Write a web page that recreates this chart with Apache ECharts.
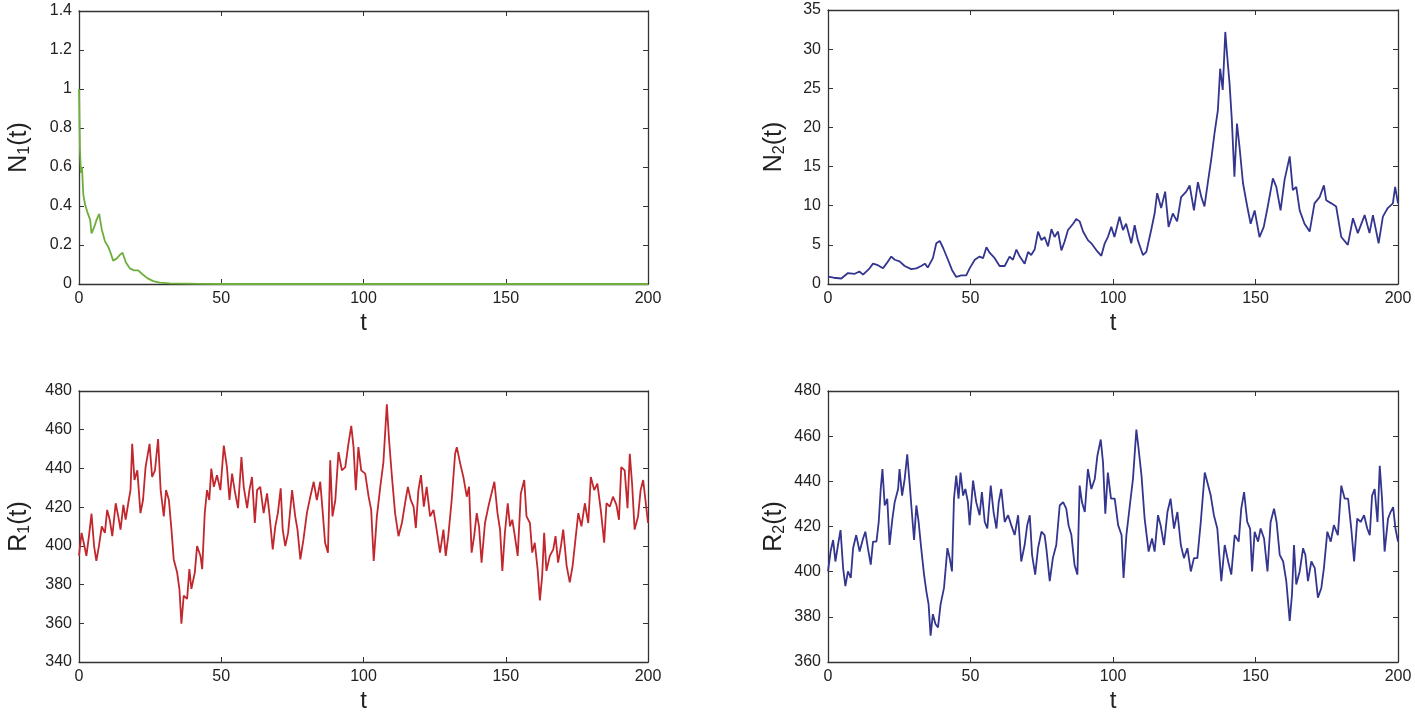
<!DOCTYPE html>
<html>
<head>
<meta charset="utf-8">
<script src="https://cdn.jsdelivr.net/npm/echarts@6/dist/echarts.min.js"></script>
<style>
  html, body { margin: 0; padding: 0; background: #fff; }
  #chart { width: 1415px; height: 714px; }
</style>
</head>
<body>
<div id="chart"></div>
<script>
// N1(t) - green, top left
var tN1 = [0, 0.35, 0.7, 1.05, 1.5, 2.1, 2.9, 3.9, 4.4, 5.3, 6.2, 7.1, 8, 9.1, 10.3, 11.1, 12, 13.2, 14.4, 15.3, 16.5, 17.9, 19.3, 20.8, 22.3, 24, 26.1, 28.4, 31.9, 37.8, 42.5, 50, 100, 150, 200];
var N1 = [1.0, 0.68, 0.57, 0.60, 0.46, 0.41, 0.37, 0.33, 0.26, 0.29, 0.33, 0.36, 0.28, 0.22, 0.19, 0.16, 0.12, 0.13, 0.15, 0.16, 0.11, 0.08, 0.07, 0.07, 0.05, 0.03, 0.015, 0.007, 0.003, 0.002, 0.001, 0, 0, 0, 0];

// N2(t) - blue, top right
var tN2 = [0, 2, 4.7, 7, 9.4, 11, 12.3, 14.6, 15.8, 17.5, 19.3, 20.5, 22.2, 23.4, 25.1, 26.9, 29.2, 31, 32.7, 34, 35, 36.8, 38, 39.2, 40.4, 42.1, 43.5, 45, 46.8, 48.5, 49.7,
  51.5, 53.2, 54.4, 55.6, 56.7, 58.5, 60.2, 62, 63.7, 64.9, 66.1, 67.3, 69, 70.2, 71.3, 72.5, 73.7, 74.9, 76, 77.2, 78.4, 79.5, 80.7, 81.9, 83, 84.2, 86, 87.1, 88.3, 89.5,
  91.2, 92.4, 94.2, 95.9, 97.1, 98.2, 99.4, 100.5, 102.3, 103.5, 104.6, 106.4, 107.6, 108.7, 110.5, 111.7, 113.4, 114.6, 115.5, 116.9, 118.3, 119.5, 121, 122.5, 123.9,
  125.7, 126.9, 128.4, 129.8, 131, 132.1, 133.3, 134.5, 135.6, 136.8, 137.6, 138.5, 139.4, 140.1, 140.9, 141.7, 142.6, 143.5, 144.4, 145.6, 147.1, 148.3, 149.7,
  151.4, 152.9, 154.3, 156.1, 157.3, 158.8, 160.2, 162, 163.1, 164.3, 165.5, 167.2, 169, 170.7, 172.5, 174, 174.8, 176.6, 178.3, 180.1, 182.4, 184.2, 185.9, 188.3,
  190, 191.2, 193.2, 194.7, 196.4, 198.2, 199, 200];
var N2 = [0.95, 0.8, 0.7, 1.4, 1.3, 1.6, 1.2, 2.0, 2.6, 2.4, 2.0, 2.6, 3.5, 3.1, 2.9, 2.3, 1.9, 2.0, 2.3, 2.6, 2.1, 3.3, 5.2, 5.5, 4.6, 3.1, 1.8, 0.9, 1.1, 1.1, 2.0,
  3.1, 3.5, 3.3, 4.7, 4.0, 3.3, 2.3, 2.3, 3.5, 3.1, 4.4, 3.5, 2.6, 4.1, 3.7, 4.4, 6.7, 5.6, 6.0, 4.8, 7.0, 6.0, 6.7, 4.3, 5.4, 6.9, 7.7, 8.3, 8.0, 6.7,
  5.6, 5.2, 4.3, 3.6, 5.2, 6.0, 7.3, 6.0, 8.6, 6.9, 7.7, 5.2, 7.5, 5.6, 3.7, 4.1, 6.9, 9.0, 11.6, 9.7, 11.8, 7.3, 9.0, 8.0, 11.1,
  11.8, 12.6, 9.4, 13.0, 11.1, 9.9, 13.0, 16.0, 19.2, 22.2, 27.5, 24.8, 32.2, 29.0, 25.6, 20.9, 13.7, 20.5, 17.5, 12.9, 9.9, 7.7, 9.4,
  6.0, 7.3, 9.9, 13.5, 12.4, 9.4, 13.3, 16.3, 12.0, 12.4, 9.4, 7.7, 6.7, 10.3, 11.1, 12.6, 10.7, 10.3, 9.9, 6.0, 5.0, 8.4, 6.5, 8.8,
  6.5, 8.8, 5.2, 8.6, 9.7, 10.3, 12.4, 10.3];

// R1(t) - red, bottom left
var tR1 = [0, 0.9, 1.8, 2.6, 3.5, 4.4, 5.3, 6.1, 7, 8, 9.1, 9.9, 10.8, 11.7, 12.9, 13.8, 14.6, 15.6, 16.4, 17.3, 18.1, 18.7, 19.5, 20.5, 21.6, 22.5, 23.4, 24.8, 25.7,
  26.7, 27.8, 28.7, 29.8, 30.6, 31.6, 32.5, 33.3, 34.5, 35.3, 36, 36.8, 38, 38.8, 39.5, 40.7, 41.5, 42.7, 43.3, 44.2, 45, 45.8, 46.5, 47.4, 48.5, 49.7,
  50.9, 52, 52.9, 53.8, 54.7, 55.9, 57.1, 57.9, 59.1, 59.9, 60.8, 61.8, 62.6, 63.7, 64.9, 66.1, 66.9, 68.1, 69, 69.9, 70.9, 71.6, 72.5, 73.5, 74.9,
  76, 76.8, 77.8, 78.9, 80.1, 81.3, 82.5, 83.6, 84.8, 85.6, 86.5, 87.5, 88.3, 89.1, 90.1, 91.2, 92.4, 93.6, 94.7, 95.7, 96.5, 97.3, 98.2, 99.2,
  100.6, 101.8, 102.7, 103.6, 104.7, 105.9, 107, 108.2, 109, 110, 111.1, 112.3, 113.5, 114.6, 115.6, 116.6, 117.6, 118.4, 119.3, 120.2, 121.2, 122.2,
  123.4, 124.6, 125.7, 126.9, 128.1, 128.9, 129.8, 131, 132.2, 132.8, 134, 135.1, 136.3, 137.1, 138, 138.9, 139.8, 140.6, 141.5, 142.7, 143.9, 145,
  146, 147.1, 148, 148.8, 149.7, 150.7, 151.5, 152.3, 153.2, 154.2, 155.3, 156.5, 157.3, 158.5, 159.3, 160.2, 161.2, 162, 162.8, 163.5, 164.3, 165.5,
  166.7, 167.5, 168.4, 169.4, 170.2, 171.4, 172.5, 173.5, 174.5, 175.5, 176.6, 177.8, 179, 179.9, 181.1, 182.2, 183.4, 184.6, 185.4, 186.6, 187.7,
  188.9, 189.8, 190.6, 191.8, 192.8, 193.6, 194.4, 195.3, 196.5, 197.4, 198.3, 199.1, 200];
var R1 = [395, 406.7, 400.7, 394.8, 405, 416.6, 399.9, 392.2, 399.9, 410, 406.7, 418.6, 413.5, 405, 422, 415.2, 408.4, 421.2, 413.5, 422, 428.8, 452.7, 434, 439, 416.9, 423.7, 440.7, 452.7, 435.6,
  439, 455.2, 428.8, 415.2, 428.8, 423.7, 408.4, 393, 386.2, 377.7, 359.8, 374.3, 372.6, 388, 377.7, 386.2, 399.9, 394.8, 388, 416.9, 428.8, 423.7, 439.9, 430.5, 436.5, 428.8,
  451.8, 440.7, 423.7, 437.3, 428.8, 419.5, 445.9, 430.5, 419.5, 428.8, 435.6, 411.8, 428.8, 430.5, 416.9, 427.1, 416.9, 398.2, 410.1, 416.9, 429.7, 408.4, 399.9, 406.7, 428.8,
  415.2, 408.4, 393, 403.3, 416.9, 425.4, 433.1, 423.7, 433.1, 418.6, 401.6, 396.5, 444.2, 415.2, 423.7, 448.4, 439, 440.7, 452.7, 462, 451, 428.8, 451, 439,
  437.3, 425.4, 418.6, 392.2, 415.2, 430.5, 443.3, 473.1, 454.4, 435.6, 416.9, 405, 411.8, 422, 430.5, 423.7, 420.3, 409.2, 428.8, 436.5, 420.3, 430.5,
  415.2, 418.6, 408.4, 396.5, 408.4, 394.8, 405, 423.7, 447.6, 451, 442.5, 435.6, 425.4, 430.5, 396.5, 405, 416.9, 410.1, 391.3, 411.8, 420.3, 427.1,
  433.1, 416.9, 408.4, 387.1, 406.7, 422, 410.1, 413.5, 405, 394.8, 427.1, 434, 415.2, 411.8, 396.5, 401.6, 388, 371.8, 384.5, 406.7, 387.1, 394.8,
  398.2, 405, 391.3, 399.9, 408.4, 389.7, 381.1, 389.7, 403.3, 416.9, 410.1, 422, 411.8, 435.6, 428.8, 432.2, 418.6, 401.6, 422, 420.3, 425.4,
  421.2, 413.5, 440.7, 439, 419.5, 447.6, 432.2, 408.4, 415.2, 428.8, 434, 423.7, 411.8];

// R2(t) - blue, bottom right
var tR2 = [0, 0.9, 1.8, 2.6, 3.5, 4.4, 5.3, 6.1, 7, 8, 8.8, 9.9, 11.1, 12.3, 13.1, 14, 15, 15.8, 17, 17.8, 18.5, 19.1, 19.9, 20.8, 21.6, 22.6, 23.4, 24.6, 25.1,
  26, 26.9, 27.8, 28.7, 29.5, 30.2, 31, 31.8, 32.7, 33.7, 34.5, 35.3, 36, 36.8, 37.7, 38.6, 39.5, 40.7, 41.9, 42.7, 43.5, 44.2, 45, 45.8, 46.5, 47.4, 48.2, 49.1, 49.7,
  50.9, 52, 53.2, 54, 55, 55.9, 57.1, 58.1, 59.1, 59.9, 60.8, 62, 63.2, 64.3, 65.5, 66.7, 67.8, 69, 69.9, 70.8, 71.6, 72.7, 73.7, 74.9,
  76, 76.6, 77.8, 78.9, 80.1, 81.3, 82.5, 83.6, 84.4, 85.4, 86.5, 87.5, 88.3, 89.1, 90.1, 91.2, 92.4, 93.6, 94.5, 95.7, 96.5, 97.3, 98.2, 99.3,
  100.6, 101.8, 103, 103.7, 104.7, 105.9, 107, 108.2, 109, 110, 111.1, 112.5, 113.7, 114.6, 115.8, 116.7, 117.9, 119.1, 120.2, 121.4, 122.6,
  123.8, 124.9, 126.1, 127.3, 128.4, 129.6, 130.8, 132.2, 133.1, 134.3, 135.4, 136.6, 138, 139.2, 140.4, 141.5, 142.7, 144.1, 145,
  146, 147.1, 148.1, 148.8, 149.7, 150.9, 151.8, 153, 154.2, 155.3, 156.5, 157.4, 158.5, 159.7, 160.8, 162, 162.8, 163.5, 164.3, 165.5,
  166.7, 167.5, 168.4, 169.6, 170.8, 171.9, 173.1, 174, 175.2, 176.4, 177.5, 178.9, 180.1, 181.3, 182.5, 183.6, 184.6, 185.7, 186.9, 188.1,
  189.2, 190.1, 190.9, 191.8, 192.8, 193.6, 194.4, 195.3, 196.5, 197.4, 198.3, 199.1, 200];
var R2 = [400.1, 408.9, 414, 404.5, 411.8, 418.4, 401.6, 393.6, 400.1, 397.2, 410.4, 416.2, 408.9, 414.7, 417.7, 410.4, 403.1, 413.3, 413.3, 422, 436.6, 445.4, 429.3, 432.3, 411.8, 423.5, 430.8, 436.6, 445.4,
  433.7, 441, 452, 438.1, 425, 414, 429.3, 422, 410.4, 398.7, 391.4, 385.5, 371.7, 381.2, 376.8, 375.3, 385.5, 392.8, 410.4, 406, 400.1, 432.3, 442.5, 432.3, 443.9, 433.7, 436.6, 430.8, 420.6,
  440.3, 430.8, 425, 435.2, 422, 419.1, 438.1, 426.4, 419.1, 430.8, 436.6, 422, 425, 420.6, 416.2, 425, 404.5, 411.8, 420.6, 425, 407.4, 398.7, 410.4, 417.7,
  416.2, 410.4, 395.8, 406, 411.8, 429.3, 430.8, 427.9, 420.6, 416.2, 403.1, 398.7, 438.1, 430.8, 426.4, 445.4, 436.6, 441, 451.2, 458.5, 448.3, 425.7, 443.9, 432.3,
  432.3, 420.6, 416.2, 397.2, 416.2, 429.3, 441, 462.9, 454.2, 442.5, 423.5, 408.9, 414.7, 408.9, 425, 420.6, 411.8, 426.4, 432.3, 419.1, 426.4,
  411.8, 406, 410.4, 400.1, 406, 406, 422, 443.9, 439.6, 433.7, 425, 419.1, 395.8, 411.8, 404.5, 398.7, 416.2, 413.3, 427.9,
  435.2, 422, 419.1, 400.1, 417.7, 413.3, 419.1, 414.7, 400.1, 422, 427.9, 422, 407.4, 404.5, 395.8, 378.2, 389.9, 411.8, 394.3, 400.1,
  410.4, 407.4, 395.8, 404.5, 401.6, 388.5, 392.8, 401.6, 417.7, 413.3, 420.6, 416.2, 438.1, 432.3, 432.3, 419.1, 404.5, 423.5, 422, 425,
  419.1, 416.2, 433.7, 436.6, 422, 446.9, 432.3, 408.9, 423.5, 426.4, 428.6, 419.1, 413.3];

var xTicks = { min: 0, max: 200, interval: 50 };
var yRanges = [
  { min: 0, max: 1.4, interval: 0.2 },
  { min: 0, max: 35, interval: 5 },
  { min: 340, max: 480, interval: 20 },
  { min: 360, max: 480, interval: 20 }
];
var yNames = ['{a|N}{s|1}{a|(t)}', '{a|N}{s|2}{a|(t)}', '{a|R}{s|1}{a|(t)}', '{a|R}{s|2}{a|(t)}'];
var colors = ['#6fae3c', '#33358f', '#c1272d', '#33358f'];
var seriesData = [[tN1, N1], [tN2, N2], [tR1, R1], [tR2, R2]];

var grids = [
  { left: 79, top: 11, width: 569, height: 273 },
  { left: 828, top: 10, width: 570, height: 274 },
  { left: 79, top: 391, width: 569, height: 274 },
  { left: 828, top: 391, width: 570, height: 273 }
];

var font = 'Liberation Sans, Arial, sans-serif';
var lineCol = '#333';

var xAxes = [], yAxes = [], series = [];
for (var i = 0; i < 4; i++) {
  // bottom x axis with labels
  xAxes.push({
    type: 'value', gridIndex: i, position: 'bottom',
    min: xTicks.min, max: xTicks.max, interval: xTicks.interval,
    name: 't', nameLocation: 'middle', nameGap: 27,
    nameTextStyle: { fontSize: 24, color: '#222', fontFamily: font },
    axisLine: { show: true, onZero: false, lineStyle: { color: lineCol, width: 1.3 } },
    axisTick: { show: true, inside: true, length: 5, lineStyle: { color: lineCol } },
    axisLabel: { fontSize: 16, color: '#222', fontFamily: font, margin: 7 },
    splitLine: { show: false }
  });
  // top x axis, ticks only
  xAxes.push({
    type: 'value', gridIndex: i, position: 'top',
    min: xTicks.min, max: xTicks.max, interval: xTicks.interval,
    axisLine: { show: true, onZero: false, lineStyle: { color: lineCol, width: 1.3 } },
    axisTick: { show: true, inside: true, length: 5, lineStyle: { color: lineCol } },
    axisLabel: { show: false },
    splitLine: { show: false }
  });
  var yr = yRanges[i];
  yAxes.push({
    type: 'value', gridIndex: i, position: 'left',
    min: yr.min, max: yr.max, interval: yr.interval,
    name: yNames[i], nameLocation: 'middle', nameRotate: 90, nameGap: i % 2 === 0 ? 46 : 40,
    nameTextStyle: {
      color: '#222', fontFamily: font,
      rich: {
        a: { fontSize: 25, fontFamily: font, color: '#222', lineHeight: 28 },
        s: { fontSize: 16, fontFamily: font, color: '#222', verticalAlign: 'bottom', lineHeight: 16 }
      }
    },
    axisLine: { show: true, onZero: false, lineStyle: { color: lineCol, width: 1.3 } },
    axisTick: { show: true, inside: true, length: 5, lineStyle: { color: lineCol } },
    axisLabel: { fontSize: 16, color: '#222', fontFamily: font, margin: 7 },
    splitLine: { show: false }
  });
  yAxes.push({
    type: 'value', gridIndex: i, position: 'right',
    min: yr.min, max: yr.max, interval: yr.interval,
    axisLine: { show: true, onZero: false, lineStyle: { color: lineCol, width: 1.3 } },
    axisTick: { show: true, inside: true, length: 5, lineStyle: { color: lineCol } },
    axisLabel: { show: false },
    splitLine: { show: false }
  });
  var ts = seriesData[i][0], vs = seriesData[i][1];
  series.push({
    type: 'line',
    xAxisIndex: i * 2, yAxisIndex: i * 2,
    data: ts.map(function (t, k) { return [t, vs[k]]; }),
    showSymbol: false,
    lineStyle: { color: colors[i], width: 1.8 },
    itemStyle: { color: colors[i] },
    clip: true
  });
}

var myChart = echarts.init(document.getElementById('chart'));
myChart.setOption({
  animation: false,
  backgroundColor: '#fff',
  grid: grids,
  xAxis: xAxes,
  yAxis: yAxes,
  series: series
});
</script>
</body>
</html>
